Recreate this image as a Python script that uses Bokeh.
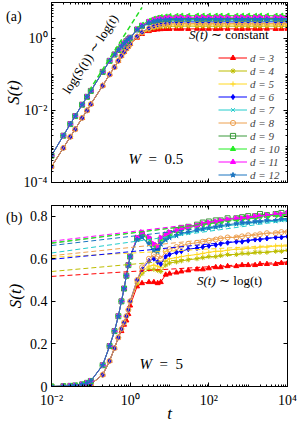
import math
from bokeh.plotting import figure
from bokeh.models import (Range1d, FixedTicker, LogAxis, LinearAxis, Legend,
                          LegendItem, Label, ColumnDataSource, Div)
from bokeh.layouts import column
from bokeh.embed import file_html
from bokeh.resources import INLINE

# ---------------- data ----------------
T = [0.01, 0.02, 0.03, 0.04, 0.06, 0.08, 0.1, 0.2, 0.3, 0.4, 0.5, 0.6, 0.7, 0.8, 0.9, 1,
     1.5, 2, 3, 4, 5, 6, 8, 10, 15, 20, 30, 50, 70, 100, 150, 200, 300, 500, 700, 1000,
     1500, 2000, 3000, 5000, 7000, 10000]

D = [3, 4, 5, 6, 7, 8, 9, 10, 11, 12]

# panel (a): W = 0.5
Sa_d3 = [2.75e-4, 9.1e-4, 1.86e-3, 3.0e-3, 6.2e-3, 1.0e-2, 1.5e-2, 4.9e-2, 0.10, 0.16, 0.24, 0.33, 0.42, 0.52, 0.6, 0.7,
         1.05, 1.33, 1.6, 1.72, 1.78, 1.81, 1.83, 1.84, 1.85, 1.85, 1.84, 1.86, 1.85, 1.85, 1.84, 1.86, 1.85, 1.85, 1.84, 1.86, 1.85, 1.85, 1.86, 1.84, 1.85, 1.85]
Sa_d4 = [2.75e-4, 9.1e-4, 1.86e-3, 3.0e-3, 6.2e-3, 1.0e-2, 1.5e-2, 4.9e-2, 0.10, 0.16, 0.24, 0.33, 0.42, 0.52, 0.6, 0.7,
         1.1, 1.42, 1.75, 1.95, 2.05, 2.1, 2.15, 2.18, 2.19, 2.2, 2.21, 2.19, 2.2, 2.2, 2.18, 2.21, 2.2, 2.19, 2.21, 2.2, 2.2, 2.19, 2.21, 2.2, 2.19, 2.2]
Sa_d5 = [2.75e-4, 9.1e-4, 1.86e-3, 3.0e-3, 6.2e-3, 1.0e-2, 1.5e-2, 4.9e-2, 0.10, 0.16, 0.24, 0.33, 0.42, 0.52, 0.6, 0.7,
         1.12, 1.45, 1.82, 2.05, 2.18, 2.26, 2.33, 2.37, 2.39, 2.4, 2.38, 2.41, 2.4, 2.39, 2.41, 2.4, 2.38, 2.41, 2.4, 2.39, 2.4, 2.41, 2.39, 2.4, 2.41, 2.4]
Sa_d6 = [2.75e-4, 9.1e-4, 1.86e-3, 3.0e-3, 6.2e-3, 1.0e-2, 1.5e-2, 4.9e-2, 0.10, 0.16, 0.24, 0.33, 0.42, 0.52, 0.6, 0.7,
         1.15, 1.5, 1.95, 2.25, 2.45, 2.58, 2.72, 2.8, 2.86, 2.88, 2.9, 2.89, 2.91, 2.9, 2.88, 2.91, 2.9, 2.89, 2.9, 2.92, 2.9, 2.88, 2.91, 2.9, 2.89, 2.9]
Sa_d7 = [5.6e-4, 2.0e-3, 4.2e-3, 7.0e-3, 1.45e-2, 2.4e-2, 3.5e-2, 0.118, 0.24, 0.36, 0.48, 0.6, 0.72, 0.84, 0.95, 1.05,
         1.72, 2.1, 2.6, 2.8, 2.92, 3.0, 3.05, 3.08, 3.1, 3.09, 3.11, 3.1, 3.08, 3.12, 3.1, 3.09, 3.11, 3.1, 3.1, 3.08, 3.11, 3.1, 3.09, 3.11, 3.1, 3.1]
Sa_d8 = [2.75e-4, 9.1e-4, 1.86e-3, 3.0e-3, 6.2e-3, 1.0e-2, 1.5e-2, 4.9e-2, 0.10, 0.16, 0.24, 0.33, 0.42, 0.52, 0.6, 0.7,
         1.13, 1.48, 1.9, 2.15, 2.3, 2.4, 2.5, 2.55, 2.58, 2.6, 2.59, 2.61, 2.6, 2.58, 2.62, 2.6, 2.59, 2.61, 2.6, 2.6, 2.58, 2.61, 2.6, 2.59, 2.61, 2.6]
Sa_d9 = [5.6e-4, 2.0e-3, 4.2e-3, 7.0e-3, 1.45e-2, 2.4e-2, 3.5e-2, 0.118, 0.24, 0.36, 0.48, 0.6, 0.72, 0.84, 0.95, 1.05,
         1.78, 2.25, 2.85, 3.15, 3.3, 3.4, 3.5, 3.55, 3.58, 3.6, 3.59, 3.61, 3.6, 3.62, 3.58, 3.6, 3.61, 3.59, 3.6, 3.62, 3.6, 3.58, 3.61, 3.6, 3.59, 3.6]
Sa_d10 = [5.6e-4, 2.0e-3, 4.2e-3, 7.0e-3, 1.45e-2, 2.4e-2, 3.5e-2, 0.118, 0.24, 0.36, 0.48, 0.6, 0.72, 0.84, 0.95, 1.05,
          1.85, 2.4, 3.1, 3.55, 3.8, 3.95, 4.1, 4.2, 4.25, 4.3, 4.28, 4.32, 4.3, 4.29, 4.31, 4.3, 4.33, 4.29, 4.3, 4.32, 4.28, 4.31, 4.3, 4.29, 4.32, 4.3]
Sa_d11 = [5.6e-4, 2.0e-3, 4.2e-3, 7.0e-3, 1.45e-2, 2.4e-2, 3.5e-2, 0.118, 0.24, 0.36, 0.48, 0.6, 0.72, 0.84, 0.95, 1.05,
          1.8, 2.3, 2.95, 3.3, 3.5, 3.62, 3.75, 3.82, 3.86, 3.88, 3.9, 3.87, 3.91, 3.9, 3.88, 3.92, 3.89, 3.9, 3.91, 3.88, 3.9, 3.92, 3.89, 3.9, 3.91, 3.9]
Sa_d12 = [5.6e-4, 2.0e-3, 4.2e-3, 7.0e-3, 1.45e-2, 2.4e-2, 3.5e-2, 0.118, 0.24, 0.36, 0.48, 0.6, 0.72, 0.84, 0.95, 1.05,
          1.76, 2.2, 2.75, 3.0, 3.15, 3.25, 3.32, 3.36, 3.38, 3.4, 3.39, 3.41, 3.4, 3.38, 3.42, 3.4, 3.39, 3.41, 3.4, 3.38, 3.41, 3.4, 3.39, 3.41, 3.4, 3.4]

# power-law guide in (a)
guide_a_t = [0.09, 2.0]
guide_a_S = [0.035, 7.3]

# panel (b): W = 5
Sb_d3 = [0.0, 0.0005, 0.001, 0.002, 0.004, 0.007, 0.011, 0.055, 0.12, 0.18, 0.23, 0.26, 0.29, 0.31, 0.34, 0.38,
         0.47, 0.485, 0.49, 0.49, 0.485, 0.49, 0.525, 0.53, 0.535, 0.54, 0.545, 0.55, 0.55, 0.555, 0.56, 0.56, 0.565, 0.565, 0.57, 0.57, 0.57, 0.575, 0.575, 0.575, 0.58, 0.58]
Sb_d4 = [0.0, 0.0005, 0.001, 0.002, 0.004, 0.007, 0.011, 0.055, 0.12, 0.18, 0.23, 0.27, 0.30, 0.33, 0.36, 0.40,
         0.485, 0.53, 0.55, 0.55, 0.545, 0.54, 0.57, 0.58, 0.585, 0.59, 0.595, 0.60, 0.605, 0.61, 0.61, 0.615, 0.62, 0.62, 0.625, 0.625, 0.63, 0.63, 0.63, 0.635, 0.635, 0.64]
Sb_d5 = [0.0, 0.0005, 0.001, 0.002, 0.004, 0.007, 0.011, 0.055, 0.12, 0.18, 0.23, 0.27, 0.30, 0.33, 0.36, 0.40,
         0.49, 0.54, 0.565, 0.57, 0.565, 0.56, 0.59, 0.60, 0.605, 0.61, 0.615, 0.62, 0.625, 0.63, 0.635, 0.635, 0.64, 0.645, 0.645, 0.65, 0.65, 0.655, 0.655, 0.66, 0.66, 0.66]
Sb_d6 = [0.0, 0.0005, 0.001, 0.002, 0.004, 0.007, 0.011, 0.055, 0.12, 0.18, 0.23, 0.27, 0.30, 0.33, 0.36, 0.40,
         0.50, 0.55, 0.59, 0.60, 0.585, 0.575, 0.61, 0.62, 0.63, 0.635, 0.645, 0.65, 0.655, 0.66, 0.665, 0.67, 0.675, 0.68, 0.68, 0.685, 0.69, 0.69, 0.695, 0.70, 0.70, 0.705]
Sb_d7 = [0.0, 0.0015, 0.003, 0.005, 0.010, 0.017, 0.026, 0.10, 0.19, 0.26, 0.33, 0.40, 0.46, 0.52, 0.57, 0.61,
         0.69, 0.70, 0.665, 0.635, 0.63, 0.665, 0.685, 0.695, 0.705, 0.715, 0.72, 0.73, 0.735, 0.74, 0.745, 0.75, 0.755, 0.76, 0.76, 0.765, 0.77, 0.77, 0.775, 0.775, 0.78, 0.78]
Sb_d8 = [0.0, 0.0005, 0.001, 0.002, 0.004, 0.007, 0.011, 0.055, 0.12, 0.18, 0.23, 0.27, 0.30, 0.33, 0.36, 0.40,
         0.50, 0.56, 0.60, 0.62, 0.61, 0.60, 0.635, 0.645, 0.655, 0.66, 0.67, 0.675, 0.68, 0.685, 0.69, 0.695, 0.70, 0.70, 0.705, 0.71, 0.71, 0.715, 0.72, 0.72, 0.725, 0.725]
Sb_d9 = [0.0, 0.0015, 0.003, 0.005, 0.010, 0.017, 0.026, 0.10, 0.19, 0.26, 0.33, 0.40, 0.46, 0.52, 0.57, 0.61,
         0.695, 0.715, 0.69, 0.66, 0.655, 0.69, 0.71, 0.72, 0.735, 0.745, 0.75, 0.76, 0.77, 0.775, 0.78, 0.78, 0.79, 0.79, 0.795, 0.80, 0.80, 0.81, 0.805, 0.81, 0.815, 0.81]
Sb_d10 = [0.0, 0.0015, 0.003, 0.005, 0.010, 0.017, 0.026, 0.10, 0.19, 0.26, 0.33, 0.40, 0.46, 0.52, 0.57, 0.61,
          0.70, 0.72, 0.695, 0.665, 0.655, 0.695, 0.71, 0.72, 0.73, 0.74, 0.745, 0.755, 0.76, 0.765, 0.77, 0.775, 0.78, 0.785, 0.79, 0.79, 0.795, 0.80, 0.80, 0.805, 0.80, 0.81]
Sb_d11 = [0.0, 0.0015, 0.003, 0.005, 0.010, 0.017, 0.026, 0.10, 0.19, 0.26, 0.33, 0.40, 0.46, 0.52, 0.57, 0.61,
          0.70, 0.725, 0.70, 0.67, 0.66, 0.70, 0.715, 0.725, 0.735, 0.74, 0.75, 0.755, 0.765, 0.77, 0.775, 0.78, 0.785, 0.79, 0.79, 0.795, 0.80, 0.80, 0.805, 0.81, 0.81, 0.815]
Sb_d12 = [0.0, 0.0015, 0.003, 0.005, 0.010, 0.017, 0.026, 0.10, 0.19, 0.26, 0.33, 0.40, 0.46, 0.52, 0.57, 0.61,
          0.69, 0.70, 0.67, 0.64, 0.635, 0.67, 0.69, 0.70, 0.71, 0.72, 0.725, 0.735, 0.74, 0.745, 0.75, 0.755, 0.76, 0.765, 0.77, 0.77, 0.775, 0.775, 0.78, 0.78, 0.785, 0.785]

# log(t) fits in (b): value at t=1e-2 and at t=1e4, for d = 3..12
fit_t = [0.01, 10000]
fit_b_start = [0.517, 0.54, 0.607, 0.597, 0.627, 0.614, 0.672, 0.675, 0.682, 0.662]
fit_b_end = [0.585, 0.64, 0.665, 0.705, 0.78, 0.73, 0.815, 0.81, 0.815, 0.79]

x_ticks = [1e-2, 1e0, 1e2, 1e4]
x_tick_labels = ["10\u207b\u00b2", "10\u2070", "10\u00b2", "10\u2074"]
ya_ticks = [1e-4, 1e-2, 1e0]
ya_tick_labels = ["10\u207b\u2074", "10\u207b\u00b2", "10\u2070"]
yb_ticks = [0, 0.2, 0.4, 0.6, 0.8]
yb_tick_labels = ["0", "0.2", "0.4", "0.6", "0.8"]

Sa = [Sa_d3, Sa_d4, Sa_d5, Sa_d6, Sa_d7, Sa_d8, Sa_d9, Sa_d10, Sa_d11, Sa_d12]
Sb = [Sb_d3, Sb_d4, Sb_d5, Sb_d6, Sb_d7, Sb_d8, Sb_d9, Sb_d10, Sb_d11, Sb_d12]
for arr in Sa + Sb:
    assert len(arr) == len(T), len(arr)

# ---------------- styles ----------------
FONT = "Liberation Serif"
NB = "\u00a0"
COLORS = {3: "#FF0000", 4: "#BDBD00", 5: "#FFD820", 6: "#0000FF", 7: "#22CCCC",
          8: "#EDA04F", 9: "#3A9A3A", 10: "#22EE22", 11: "#FF00FF", 12: "#1A74C0"}
MARKERS = {3: "triangle", 4: "asterisk", 5: "cross", 6: "diamond", 7: "x",
           8: "circle", 9: "square", 10: "triangle", 11: "triangle", 12: "star"}
ANGLES = {10: math.pi / 2, 11: -math.pi / 2}
HOLLOW = {8, 9}


def minor_log(lo, hi, majors):
    out = []
    for k in range(lo, hi + 1):
        for m in range(1, 10):
            v = m * 10.0 ** k
            if v > 10.0 ** hi * 1.0001:
                break
            if any(abs(v - M) <= 1e-9 * M for M in majors):
                continue
            out.append(v)
    return out


def style_axis(ax, show_labels=True):
    ax.axis_line_color = "black"
    ax.axis_line_width = 1
    ax.major_tick_in = 4
    ax.major_tick_out = 0
    ax.minor_tick_in = 2
    ax.minor_tick_out = 0
    ax.major_tick_line_color = "black"
    ax.minor_tick_line_color = "black"
    ax.major_label_text_font = FONT
    ax.major_label_text_color = "black"
    ax.major_label_text_font_size = "14px"
    ax.axis_label_text_font = FONT
    ax.axis_label_text_font_style = "italic"
    ax.axis_label_text_font_size = "17px"
    ax.axis_label_text_color = "black"
    if not show_labels:
        ax.major_label_text_font_size = "1px"
        ax.major_label_text_alpha = 0.0
        ax.major_label_standoff = 0


def label(p, x, y, text, size, style="normal", align="left", baseline="middle", angle=0.0):
    p.add_layout(Label(x=x, y=y, text=text, text_font=FONT, text_font_size=size,
                       text_font_style=style, text_align=align, text_baseline=baseline,
                       angle=angle, text_color="black"))


def panel_tag(text, left, top):
    return Div(text=text, width=22, height=18,
               styles={"position": "absolute", "left": "%dpx" % left, "top": "%dpx" % top,
                       "font-family": FONT, "font-size": "14px", "color": "black",
                       "z-index": "10", "line-height": "16px"})


x_ticker = FixedTicker(ticks=x_ticks, minor_ticks=minor_log(-2, 4, x_ticks))
ya_ticker = FixedTicker(ticks=ya_ticks, minor_ticks=minor_log(-4, 1, ya_ticks))
yb_ticker = FixedTicker(ticks=yb_ticks, minor_ticks=[])

# ---------------- panel (a) ----------------
pa = figure(width=299, height=195, x_axis_type="log", y_axis_type="log",
            x_range=Range1d(1e-2, 1e4), y_range=Range1d(1e-4, 1e1),
            output_backend="svg", toolbar_location=None,
            min_border_left=51, min_border_right=12, min_border_top=2, min_border_bottom=13)
pa.grid.visible = False
pa.outline_line_color = "black"
pa.background_fill_color = "white"
pa.border_fill_color = "white"

pa.xaxis.ticker = x_ticker
pa.yaxis.ticker = ya_ticker
style_axis(pa.xaxis[0], show_labels=False)
style_axis(pa.yaxis[0])
pa.yaxis[0].major_label_standoff = 4
pa.yaxis[0].major_label_overrides = {v: s for v, s in zip(ya_ticks, ya_tick_labels)}
pa.yaxis[0].axis_label = "S(t)"
pa.yaxis[0].axis_label_standoff = -2
ax_r = LogAxis(ticker=ya_ticker)
style_axis(ax_r, show_labels=False)
pa.add_layout(ax_r, "right")
ax_t = LogAxis(ticker=x_ticker)
style_axis(ax_t, show_labels=False)
pa.add_layout(ax_t, "above")

items = []
for d, S in zip(D, Sa):
    src = ColumnDataSource(dict(t=T, S=S))
    c = COLORS[d]
    lr = pa.line("t", "S", source=src, line_color=c, line_width=1)
    sr = pa.scatter("t", "S", source=src, marker=MARKERS[d], size=5,
                    angle=ANGLES.get(d, 0.0), line_color=c,
                    fill_color=c, fill_alpha=0.0 if d in HOLLOW else 1.0, line_width=1)
    items.append(LegendItem(label="d = %d" % d, renderers=[lr, sr]))

pa.line(guide_a_t, guide_a_S, line_color="#22DD22", line_width=1.5, line_dash="5 3")

leg = Legend(items=items, location=(167, 1), border_line_alpha=0,
             background_fill_color="white", background_fill_alpha=1.0,
             label_text_font=FONT, label_text_font_style="italic",
             label_text_font_size="11px", glyph_width=29, glyph_height=13,
             label_height=13, label_standoff=3, spacing=0, padding=0, margin=0)
pa.add_layout(leg)

label(pa, 10 ** -1.018, 10 ** -0.43, "log(S(t))" + NB + "\u223c" + NB + "log(t)", "13px", align="center", angle=1.0)
label(pa, 10 ** 1.975, 10 ** 0.1, "S(t)", "13px", style="italic", align="right")
label(pa, 10 ** 1.975, 10 ** 0.1, NB + "\u223c" + NB + "constant", "13px", align="left")
label(pa, 10 ** 0.278, 10 ** -3.34, "W", "15px", style="italic", align="right")
label(pa, 10 ** 0.278, 10 ** -3.34, NB + NB + "=" + NB + NB + "0.5", "15px", align="left")

# ---------------- panel (b) ----------------
pb = figure(width=299, height=235, x_axis_type="log",
            x_range=Range1d(1e-2, 1e4), y_range=Range1d(0, 0.85),
            output_backend="svg", toolbar_location=None,
            min_border_left=51, min_border_right=12, min_border_top=10, min_border_bottom=44)
pb.grid.visible = False
pb.outline_line_color = "black"
pb.background_fill_color = "white"
pb.border_fill_color = "white"

pb.xaxis.ticker = x_ticker
pb.yaxis.ticker = yb_ticker
style_axis(pb.xaxis[0])
pb.xaxis[0].major_label_standoff = 6
pb.xaxis[0].major_label_overrides = {v: s for v, s in zip(x_ticks, x_tick_labels)}
pb.xaxis[0].axis_label = "t"
pb.xaxis[0].axis_label_standoff = -7
style_axis(pb.yaxis[0])
pb.yaxis[0].major_label_standoff = 4
pb.yaxis[0].major_label_overrides = {v: s for v, s in zip(yb_ticks, yb_tick_labels)}
pb.yaxis[0].axis_label = "S(t)"
pb.yaxis[0].axis_label_standoff = 2
bx_r = LinearAxis(ticker=yb_ticker)
style_axis(bx_r, show_labels=False)
pb.add_layout(bx_r, "right")
bx_t = LogAxis(ticker=x_ticker)
style_axis(bx_t, show_labels=False)
pb.add_layout(bx_t, "above")

for d, S in zip(D, Sb):
    src = ColumnDataSource(dict(t=T, S=S))
    c = COLORS[d]
    pb.line("t", "S", source=src, line_color=c, line_width=1)
    pb.scatter("t", "S", source=src, marker=MARKERS[d], size=5,
               angle=ANGLES.get(d, 0.0), line_color=c,
               fill_color=c, fill_alpha=0.0 if d in HOLLOW else 1.0, line_width=1)

for d, s0, s1 in zip(D, fit_b_start, fit_b_end):
    pb.line(fit_t, [s0, s1], line_color=COLORS[d], line_width=1, line_dash="5 3")

label(pb, 10 ** 2.177, 0.498, "S(t)", "13px", style="italic", align="right")
label(pb, 10 ** 2.177, 0.498, NB + "\u223c" + NB + "log(t)", "13px", align="left")
label(pb, 10 ** 0.557, 0.108, "W", "15px", style="italic", align="right")
label(pb, 10 ** 0.557, 0.108, NB + NB + "=" + NB + NB + "5", "15px", align="left")

tag_a = panel_tag("(a)", 1, 4)
tag_b = panel_tag("(b)", 1, 205)

layout = column(pa, pb, tag_a, tag_b, spacing=0)
open("out.html", "w").write(file_html(layout, INLINE))
